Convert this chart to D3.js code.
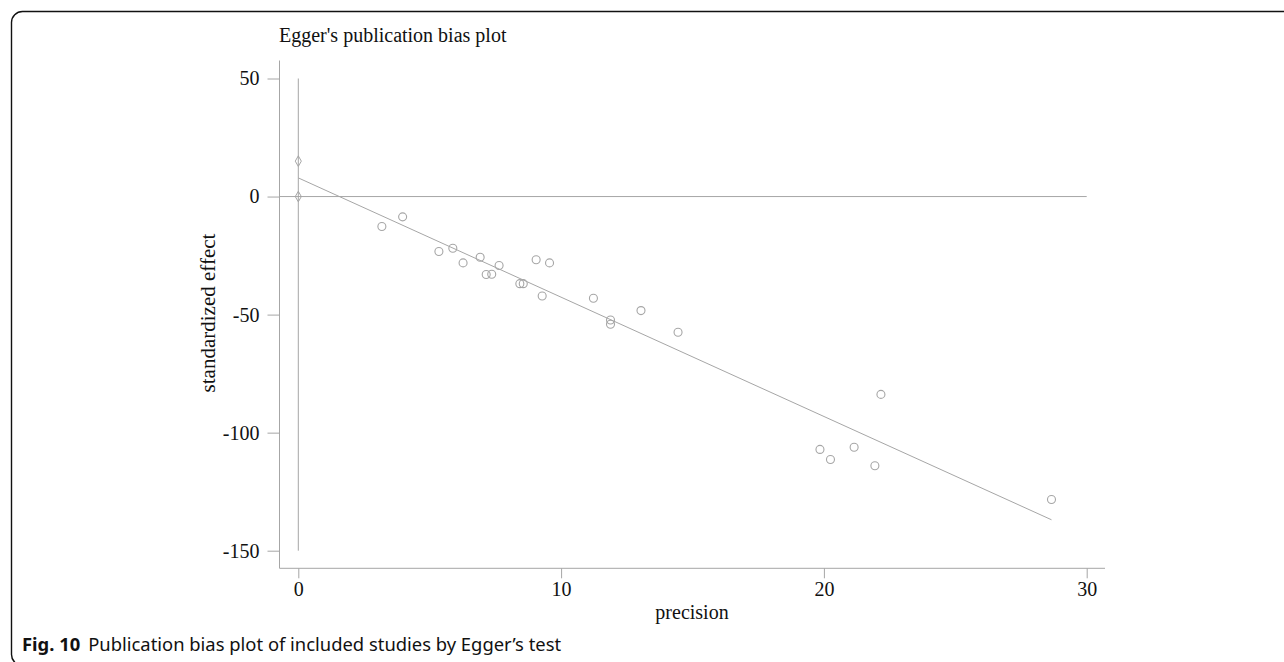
<!DOCTYPE html>
<html><head><meta charset="utf-8">
<script src="https://cdn.jsdelivr.net/npm/d3@7"></script>
<style>body{margin:0;background:#fff}svg{display:block}</style>
</head><body>
<script>
const precision = [3.18,3.97,5.35,5.88,6.27,6.92,7.15,7.36,7.64,8.43,8.56,9.05,9.28,9.56,11.23,11.88,11.88,13.04,14.45,19.85,20.25,21.15,21.94,22.17,28.66];
const stdEffect = [-12.7,-8.6,-23.3,-21.9,-28.1,-25.7,-33.0,-32.9,-29.2,-36.9,-36.9,-26.8,-42.1,-28.1,-43.1,-52.3,-54.1,-48.3,-57.5,-107.1,-111.4,-106.2,-114.0,-83.8,-128.3];
const ciDiamonds = [15, 0];
const fitLine = [[0, 7.9], [28.66, -136.9]];
const xTicks = [0, 10, 20, 30];
const yTicks = [50, 0, -50, -100, -150];

const W = 1284, H = 662;
const svg = d3.select("body").append("svg").attr("width", W).attr("height", H);
const gray = "#a6a6a6";
const serif = "'Liberation Serif', 'Times New Roman', serif";

svg.append("rect").attr("x", 11.5).attr("y", 11.5).attr("width", 1300).attr("height", 654)
  .attr("rx", 11).attr("fill", "none").attr("stroke", "#111").attr("stroke-width", 1.4);

const x = d3.scaleLinear().domain([0, 30]).range([298.3, 1086.7]);
const y = d3.scaleLinear().domain([50, -150]).range([78.5, 550.7]);

const fmt = d => String(d);
const xAxis = svg.append("g").attr("transform", "translate(0,568.3)")
  .call(d3.axisBottom(x).tickValues(xTicks).tickSize(10).tickPadding(4).tickFormat(fmt));
xAxis.select(".domain").attr("d", "M279.5,0H1105").attr("stroke", gray);
const yAxis = svg.append("g").attr("transform", "translate(279.5,0)")
  .call(d3.axisLeft(y).tickValues(yTicks).tickSize(12).tickPadding(8).tickFormat(fmt));
yAxis.select(".domain").attr("d", "M0,60.5V568.3").attr("stroke", gray);
svg.selectAll(".tick line").attr("stroke", gray);
svg.selectAll(".tick text").attr("font-family", serif).attr("font-size", 20).attr("fill", "#111");

svg.append("line").attr("x1", 279.5).attr("x2", x(30)).attr("y1", y(0)).attr("y2", y(0)).attr("stroke", gray);
svg.append("line").attr("x1", x(0)).attr("x2", x(0)).attr("y1", y(50)).attr("y2", y(-150)).attr("stroke", gray);

svg.append("path").datum(fitLine).attr("fill", "none").attr("stroke", gray)
  .attr("d", d3.line().x(d => x(d[0])).y(d => y(d[1])));

svg.selectAll(".dia").data(ciDiamonds).join("path")
  .attr("d", d3.symbol(d3.symbolDiamond, 32)())
  .attr("transform", d => `translate(${x(0)},${y(d)})`)
  .attr("fill", "none").attr("stroke", gray).attr("stroke-width", 1);

svg.selectAll(".pt").data(precision.map((p, i) => [p, stdEffect[i]])).join("circle")
  .attr("cx", d => x(d[0])).attr("cy", d => y(d[1])).attr("r", 4)
  .attr("fill", "none").attr("stroke", gray).attr("stroke-width", 1.1);

svg.append("text").attr("x", 279).attr("y", 42).attr("font-family", serif).attr("font-size", 20)
  .attr("fill", "#111").text("Egger's publication bias plot");
svg.append("text").attr("x", 692).attr("y", 619).attr("text-anchor", "middle").attr("font-family", serif)
  .attr("font-size", 20).attr("fill", "#111").text("precision");
svg.append("text").attr("transform", "translate(215,313) rotate(-90)").attr("text-anchor", "middle")
  .attr("font-family", serif).attr("font-size", 21).attr("fill", "#111").text("standardized effect");

const cap = svg.append("text").attr("x", 22).attr("y", 651).attr("font-family", "'Noto Sans', sans-serif")
  .attr("font-size", 18.4).attr("fill", "#111");
cap.append("tspan").attr("font-weight", "bold").text("Fig. 10");
cap.append("tspan").attr("dx", 8).text("Publication bias plot of included studies by Egger\u2019s test");
</script>
</body></html>
